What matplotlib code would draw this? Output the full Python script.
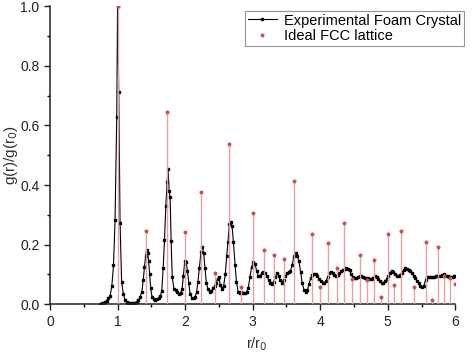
import numpy as np
import matplotlib
matplotlib.use("Agg")
import matplotlib.pyplot as plt
from matplotlib.ticker import MultipleLocator
from matplotlib.lines import Line2D

plt.rcParams["font.family"] = ["Liberation Sans", "DejaVu Sans"]

# ── Experimental foam crystal g(r)/g(r0) ───────────────────────
r_exp = [
    0.74, 0.765, 0.79, 0.815, 0.84, 0.865, 0.89, 0.915, 0.94, 0.963,
    0.988, 1.000, 1.018, 1.037, 1.06, 1.085, 1.11, 1.135, 1.16, 1.185,
    1.21, 1.235, 1.26, 1.285, 1.31, 1.335, 1.36, 1.38, 1.398, 1.415,
    1.43, 1.445, 1.46, 1.475, 1.49, 1.51, 1.535, 1.56, 1.585, 1.61,
    1.635, 1.655, 1.675, 1.695, 1.715, 1.733, 1.748, 1.763, 1.778, 1.793,
    1.81, 1.835, 1.86, 1.885, 1.91, 1.935, 1.955, 1.975, 1.995, 2.015,
    2.035, 2.055, 2.075, 2.10, 2.125, 2.15, 2.17, 2.19, 2.21, 2.235,
    2.255, 2.275, 2.295, 2.315, 2.34, 2.365, 2.39, 2.415, 2.44, 2.46,
    2.48, 2.50, 2.52, 2.545, 2.57, 2.595, 2.615, 2.635, 2.655, 2.675,
    2.695, 2.715, 2.74, 2.76, 2.785, 2.81, 2.835, 2.86, 2.885, 2.91,
    2.935, 2.96, 2.985, 3.01, 3.035, 3.06, 3.085, 3.11, 3.135, 3.16,
    3.185, 3.21, 3.235, 3.26, 3.285, 3.31, 3.335, 3.36, 3.385, 3.41,
    3.435, 3.46, 3.485, 3.51, 3.535, 3.56, 3.585, 3.61, 3.635, 3.66,
    3.685, 3.71, 3.735, 3.76, 3.785, 3.81, 3.835, 3.86, 3.885, 3.91,
    3.935, 3.96, 3.985, 4.01, 4.035, 4.06, 4.085, 4.11, 4.135, 4.16,
    4.185, 4.21, 4.235, 4.26, 4.285, 4.31, 4.335, 4.36, 4.385, 4.41,
    4.435, 4.46, 4.485, 4.51, 4.535, 4.56, 4.585, 4.61, 4.635, 4.66,
    4.685, 4.71, 4.735, 4.76, 4.785, 4.81, 4.835, 4.86, 4.885, 4.91,
    4.935, 4.96, 4.985, 5.01, 5.035, 5.06, 5.085, 5.11, 5.135, 5.16,
    5.185, 5.21, 5.235, 5.26, 5.285, 5.31, 5.335, 5.36, 5.385, 5.41,
    5.435, 5.46, 5.485, 5.51, 5.535, 5.56, 5.585, 5.61, 5.635, 5.66,
    5.685, 5.71, 5.735, 5.76, 5.785, 5.81, 5.835, 5.86, 5.885, 5.91,
    5.935, 5.96, 5.985, 6.00,
]
g_exp = [
    0.000, 0.002, 0.003, 0.008, 0.012, 0.019, 0.027, 0.060, 0.130, 0.282,
    0.630, 1.000, 0.713, 0.274, 0.075, 0.035, 0.015, 0.008, 0.005, 0.004,
    0.004, 0.004, 0.005, 0.008, 0.013, 0.025, 0.042, 0.080, 0.124, 0.160,
    0.183, 0.170, 0.145, 0.100, 0.055, 0.025, 0.018, 0.015, 0.017, 0.020,
    0.028, 0.045, 0.120, 0.215, 0.330, 0.410, 0.455, 0.380, 0.360, 0.213,
    0.090, 0.050, 0.047, 0.040, 0.035, 0.037, 0.050, 0.095, 0.146, 0.143,
    0.110, 0.070, 0.033, 0.022, 0.020, 0.025, 0.040, 0.075, 0.120, 0.175,
    0.193, 0.170, 0.120, 0.070, 0.050, 0.040, 0.045, 0.053, 0.060, 0.070,
    0.085, 0.090, 0.065, 0.052, 0.060, 0.100, 0.160, 0.210, 0.268, 0.277,
    0.262, 0.209, 0.131, 0.075, 0.042, 0.038, 0.041, 0.038, 0.036, 0.040,
    0.055, 0.090, 0.125, 0.142, 0.136, 0.110, 0.095, 0.096, 0.103, 0.108,
    0.106, 0.095, 0.082, 0.072, 0.068, 0.075, 0.090, 0.103, 0.095, 0.080,
    0.072, 0.080, 0.095, 0.103, 0.107, 0.112, 0.130, 0.160, 0.172, 0.162,
    0.145, 0.108, 0.070, 0.048, 0.040, 0.046, 0.068, 0.088, 0.097, 0.102,
    0.101, 0.094, 0.085, 0.077, 0.071, 0.070, 0.076, 0.090, 0.103, 0.108,
    0.105, 0.097, 0.093, 0.097, 0.104, 0.110, 0.114, 0.118, 0.120, 0.118,
    0.113, 0.100, 0.090, 0.087, 0.088, 0.092, 0.094, 0.094, 0.091, 0.087,
    0.086, 0.087, 0.085, 0.083, 0.088, 0.094, 0.090, 0.083, 0.077, 0.072,
    0.072, 0.076, 0.085, 0.095, 0.105, 0.112, 0.108, 0.100, 0.094, 0.093,
    0.098, 0.105, 0.115, 0.120, 0.119, 0.116, 0.110, 0.103, 0.095, 0.087,
    0.078, 0.070, 0.062, 0.057, 0.062, 0.080, 0.090, 0.092, 0.092, 0.091,
    0.092, 0.093, 0.094, 0.093, 0.095, 0.099, 0.100, 0.096, 0.093, 0.090,
    0.090, 0.092, 0.094, 0.094,
]

# ── Ideal FCC lattice peaks ────────────────────────────────────
r_fcc = [
    1.000, 1.414, 1.732, 2.000, 2.236, 2.449, 2.646, 2.828, 3.000, 3.162,
    3.317, 3.464, 3.606, 3.873, 4.000, 4.123, 4.243, 4.359, 4.472, 4.583,
    4.690, 4.796, 4.899, 5.000, 5.099, 5.196, 5.385, 5.568, 5.657, 5.745,
    5.831, 5.916, 6.000,
]
g_fcc = [
    1.000, 0.244, 0.646, 0.243, 0.377, 0.105, 0.538, 0.057, 0.307, 0.180,
    0.165, 0.151, 0.415, 0.235, 0.057, 0.205, 0.120, 0.272, 0.084, 0.165,
    0.080, 0.147, 0.024, 0.234, 0.065, 0.244, 0.056, 0.210, 0.013, 0.193,
    0.094, 0.086, 0.067,
]

fig = plt.figure(figsize=(4.74, 3.54), dpi=100)
ax = fig.add_axes([0.1055, 0.141, 0.855, 0.841])

ax.plot(r_exp, g_exp, color="black", lw=0.8, marker="s", ms=1.7,
        mec="black", mfc="black", zorder=2)
ax.vlines(r_fcc, 0, g_fcc, color="#e3a3a3", lw=1.0, zorder=3)
ax.plot(r_fcc, g_fcc, ls="none", marker="*", ms=2.6, color="#d05050", zorder=4)

ax.set_xlim(0, 6)
ax.set_ylim(0, 1.0)
ax.xaxis.set_major_locator(MultipleLocator(1))
ax.xaxis.set_minor_locator(MultipleLocator(0.5))
ax.yaxis.set_major_locator(MultipleLocator(0.2))
ax.yaxis.set_minor_locator(MultipleLocator(0.1))
ax.set_yticks([0.0, 0.2, 0.4, 0.6, 0.8, 1.0])
ax.set_yticklabels(["0.0", "0.2", "0.4", "0.6", "0.8", "1.0"])
ax.tick_params(which="major", direction="out", length=4, width=1.0,
               labelsize=10, colors="#222222")
ax.tick_params(which="minor", direction="out", length=2.5, width=1.0)

for s in ["top", "right"]:
    ax.spines[s].set_visible(False)
for s in ["left", "bottom"]:
    ax.spines[s].set_linewidth(1.1)
    ax.spines[s].set_color("#222222")

ax.set_xlabel("r/r$_0$", fontsize=10.5, color="#333333")
ax.set_ylabel("g(r)/g(r$_0$)", fontsize=11, color="#333333")
ax.xaxis.set_label_coords(0.51, -0.105)
ax.yaxis.set_label_coords(-0.075, 0.5)

handles = [
    Line2D([], [], color="black", lw=0.8, marker="s", ms=1.7),
    Line2D([], [], ls="none", marker="*", ms=2.6, color="#d05050"),
]
leg = ax.legend(handles, ["Experimental Foam Crystal", "Ideal FCC lattice"],
                loc="upper right", bbox_to_anchor=(1.04, 1.01), fontsize=10.5,
                frameon=True, fancybox=False, handlelength=2.0,
                borderpad=0.2, labelspacing=0.1, handletextpad=0.5)
leg.get_frame().set_edgecolor("#777777")
leg.get_frame().set_linewidth(0.8)

fig.savefig("out.png", dpi=100)
